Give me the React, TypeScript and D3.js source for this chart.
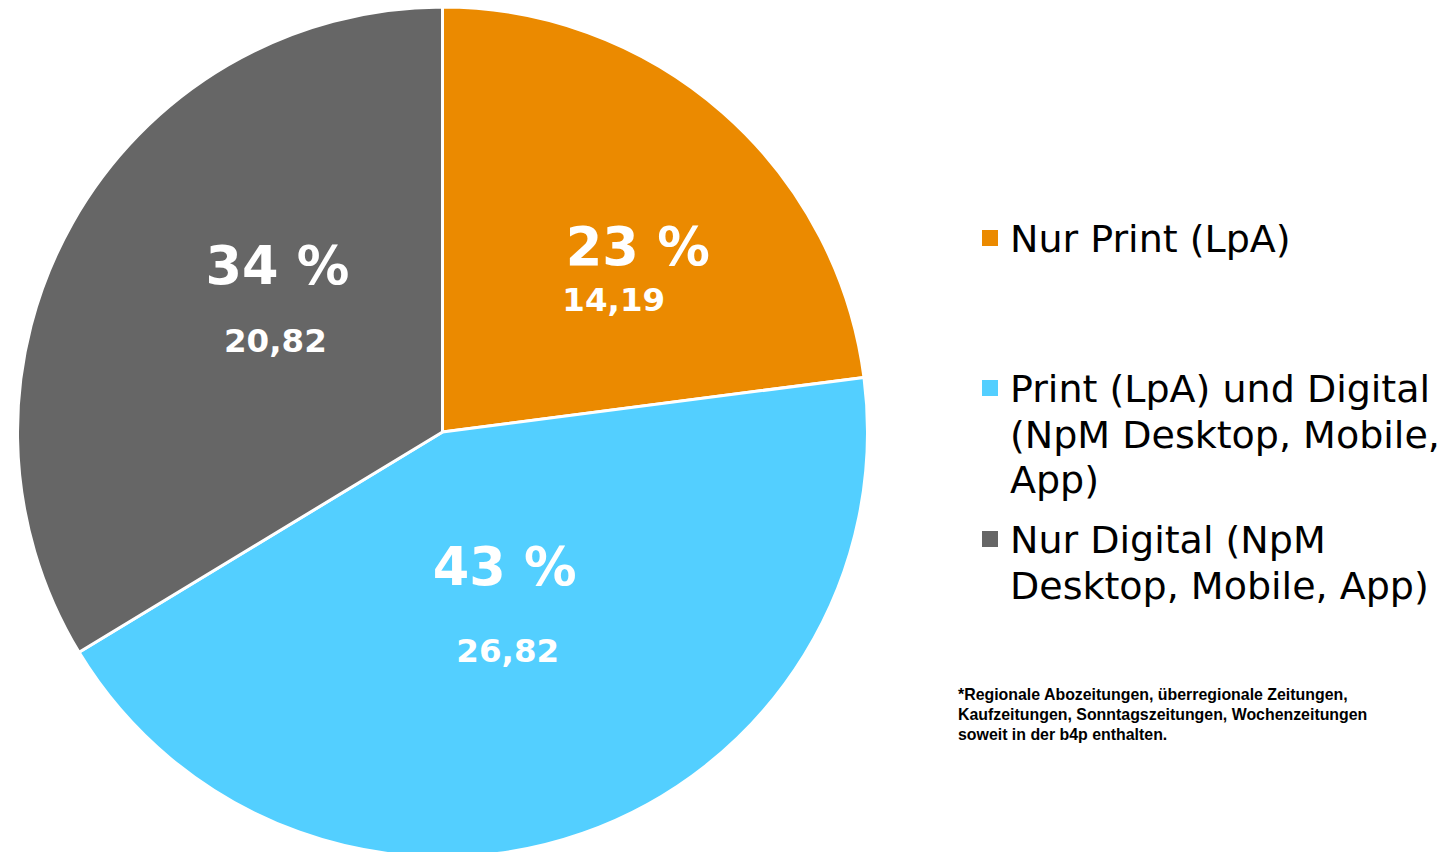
import React from 'react'
import * as d3 from 'd3'

const categories = [
  'Nur Print (LpA)',
  'Print (LpA) und Digital (NpM Desktop, Mobile, App)',
  'Nur Digital (NpM Desktop, Mobile, App)',
]
const values = [14.19, 26.82, 20.82]
const percentLabels = ['23 %', '43 %', '34 %']
const valueLabels = ['14,19', '26,82', '20,82']
const colors = ['#EB8A00', '#53CFFF', '#666666']

// legend text wrapped the way the original shows it
const legendLines = [
  ['Nur Print (LpA)'],
  ['Print (LpA) und Digital', '(NpM Desktop, Mobile,', 'App)'],
  ['Nur Digital (NpM', 'Desktop, Mobile, App)'],
]
const footnote = [
  '*Regionale Abozeitungen, überregionale Zeitungen,',
  'Kaufzeitungen, Sonntagszeitungen, Wochenzeitungen',
  'soweit in der b4p enthalten.',
]

const width = 1450
const height = 852
const cx = 442.5
const cy = 432
const radius = 425

// per slice nudges of the two label lines from the arc centroid
const pctNudge = [
  [55, -7],
  [-8, -48],
  [20, -44],
]
const valNudge = [
  [31, 39],
  [-5, 29],
  [18, 24],
]
const legendTop = [252, 402, 553]

const App: React.FunctionComponent = () => {
  React.useEffect(() => {
    document.body.style.margin = '0'
  }, [])

  const pie = d3
    .pie<number>()
    .sort(null)
    .value(d => d)
  const arcs = pie(values)
  const arc = d3
    .arc<d3.PieArcDatum<number>>()
    .innerRadius(0)
    .outerRadius(radius)
  const labelArc = d3
    .arc<d3.PieArcDatum<number>>()
    .innerRadius(radius * 0.5)
    .outerRadius(radius * 0.5)

  const lineHeight = 45.5

  return (
    <svg width={width} height={height} style={{ display: 'block' }}>
      <g transform={`translate(${cx}, ${cy})`}>
        {arcs.map((a, i) => (
          <path
            key={categories[i]}
            d={arc(a) || ''}
            fill={colors[i]}
            stroke="#fff"
            strokeWidth={3}
            strokeLinejoin="round"
          />
        ))}
        {arcs.map((a, i) => {
          const [x, y] = labelArc.centroid(a)
          return (
            <g
              key={`l${i}`}
              fill="#fff"
              fontFamily="'DejaVu Sans', Verdana, sans-serif"
              fontWeight="bold"
              textAnchor="middle"
            >
              <text
                x={x + pctNudge[i][0]}
                y={y + pctNudge[i][1]}
                fontSize={52.5}
              >
                {percentLabels[i]}
              </text>
              <text
                x={x + valNudge[i][0]}
                y={y + valNudge[i][1]}
                fontSize={32.5}
              >
                {valueLabels[i]}
              </text>
            </g>
          )
        })}
      </g>

      <g fontFamily="'DejaVu Sans', Verdana, sans-serif" fontSize={38}>
        {legendLines.map((lines, i) => (
          <g key={categories[i]}>
            <rect
              x={982}
              y={legendTop[i] - 22}
              width={16}
              height={16}
              fill={colors[i]}
            />
            {lines.map((line, j) => (
              <text key={j} x={1010} y={legendTop[i] + j * lineHeight}>
                {line}
              </text>
            ))}
          </g>
        ))}
      </g>

      <g
        fontFamily="'Liberation Sans', Arial, sans-serif"
        fontWeight="bold"
        fontSize={15.9}
      >
        {footnote.map((line, i) => (
          <text key={i} x={958} y={700 + i * 20}>
            {line}
          </text>
        ))}
      </g>
    </svg>
  )
}

export default App
